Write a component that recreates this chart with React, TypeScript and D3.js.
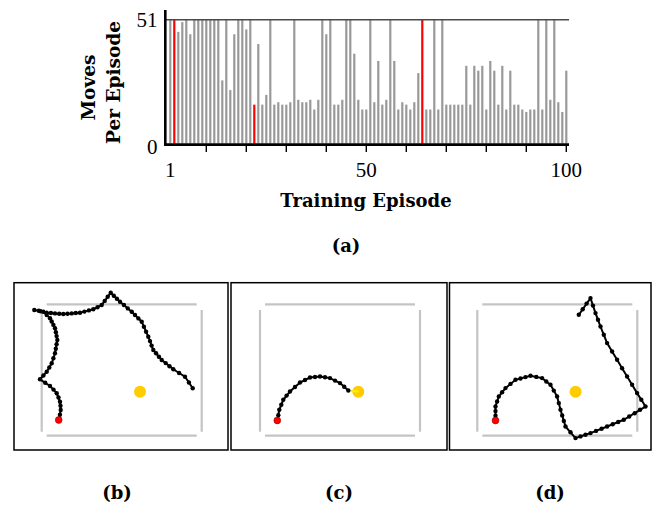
import React from 'react';
import * as d3 from 'd3';

// moves taken in each of the 100 training episodes (51 = gave up)
const movesPerEpisode = [
  51, 51, 46, 50, 51, 45, 51, 51, 51, 51, 51, 51, 51, 26, 51, 22, 45, 51, 51, 47,
  51, 16, 41, 16, 20, 51, 16, 17, 16, 16, 17, 51, 18, 17, 17, 18, 14, 18, 51, 45,
  51, 16, 16, 18, 51, 51, 37, 18, 14, 14, 51, 17, 34, 16, 18, 51, 34, 14, 17, 16,
  14, 17, 29, 51, 14, 14, 51, 14, 51, 16, 16, 16, 16, 16, 32, 16, 32, 30, 32, 14,
  34, 30, 16, 32, 14, 30, 16, 16, 14, 13, 14, 14, 51, 14, 51, 18, 51, 17, 13, 30,
];
// episodes shown below in (b), (c), (d)
const highlighted = [2, 22, 64];
const yTickLabels = [0, 51];
const xTickLabels = [1, 50, 100];
const xTickMarks = [10, 20, 30, 40, 50, 60, 70, 80, 90, 100];

// arena coordinates (0..160 wide, 0..131 tall)
const goal: [number, number] = [98.3, 87.4];

const pathB: [number, number][] = [
  [17, 115.7], [18.2, 110.5], [19, 105.7], [18.8, 101.5], [18.3, 97.4], [16.8, 93.2], [15, 89],
  [11.8, 85.3], [8.3, 81.7], [3.5, 78.5], [-1.7, 75], [1.7, 71.2], [5, 67.4], [7.6, 63.2],
  [10, 59], [11.7, 54], [13.3, 49], [14.1, 44.5], [14.9, 40], [15.6, 35.7], [14.9, 31.8],
  [14.2, 27.9], [13.3, 24], [11.7, 20.6], [10, 17.2], [8.3, 14], [5, 10.7], [1.6, 7.4],
  [-2.9, 6.5], [-7.4, 5.7], [-1.2, 7], [5, 8.4], [9.2, 8.7], [13.3, 9.1], [17.5, 9.4],
  [21.6, 9.7], [25.8, 9.4], [30, 9.1], [34.1, 8.7], [38.3, 8.4], [42.7, 7.3], [47.2, 6.1],
  [51.6, 5], [55.8, 2.9], [60, 0.7], [63, -3.4], [66, -7.5], [69, -11.6], [72.1, -8.6],
  [75.2, -5.6], [78.3, -2.6], [82.2, 0.7], [86.1, 4.1], [90, 7.4], [93.3, 10.7], [96.7, 14.1],
  [100, 17.4], [102.2, 22.4], [104.4, 27.4], [106.6, 32.4], [108.3, 36.8], [109.9, 41.3],
  [111.6, 45.7], [114.4, 49], [117.2, 52.4], [120, 55.7], [124, 58.8], [127.8, 61.9],
  [131.6, 65], [137.4, 68.7], [143.3, 72.4], [147.2, 78.2], [151, 84],
];

const pathC: [number, number][] = [
  [17.3, 116.2], [18.3, 111], [19.3, 105.5], [21.3, 100.5], [23.3, 95.5], [26.6, 91.3],
  [30, 87.2], [35, 82.7], [40, 78.2], [45, 75.7], [50, 73.2], [55, 72.7], [60, 72.2],
  [65, 73], [70, 73.8], [75, 76.3], [80, 78.8], [84.2, 82.5], [88.3, 86.2],
];

const pathD: [number, number][] = [
  [18.2, 116.2], [18.2, 111.5], [18.2, 106.8], [18.2, 102.2], [19.8, 97.2], [21.5, 92.2],
  [24.8, 88], [28.2, 83.8], [33.2, 79.6], [38.2, 75.5], [43.2, 74.2], [48.2, 72.8],
  [53.2, 71.5], [59, 72.6], [64.8, 73.8], [69, 77.2], [73.2, 80.5], [76.5, 86.3],
  [79.8, 92.2], [81.5, 98.8], [83.2, 105.5], [84.9, 111.1], [86.5, 116.6], [88.2, 122.2],
  [93.2, 128], [98.2, 133.8], [103.2, 132.1], [108.2, 130.5], [113.2, 128.8], [118.7, 126.6],
  [124.3, 124.4], [129.8, 122.2], [135.4, 120], [140.9, 117.7], [146.5, 115.5], [151.9, 112.2],
  [157.4, 108.9], [162.8, 105.5], [168.2, 102.2], [164, 95.5], [159.8, 88.8], [154.8, 80.5],
  [149.8, 72.2], [144.8, 63.9], [139.8, 55.5], [134.8, 47.2], [129.8, 38.8], [126.5, 30.5],
  [123.2, 22.2], [120.7, 15.5], [118.2, 8.8], [115.7, 1.3], [113.2, -6.2], [109.3, -0.7],
  [105.4, 5], [101.5, 10.5],
];

const panelLabels = ['(b)', '(c)', '(d)'];
const panelPaths = [pathB, pathC, pathD];
const panelBoxes = [
  { x0: 14, x1: 228, ox: 41.7, lx: 117, reached: false },
  { x0: 231, x1: 447, ox: 260, lx: 339, reached: true },
  { x0: 449.5, x1: 651, ox: 477.3, lx: 550, reached: false },
];

const boldFont = "'DejaVu Serif', serif";
const tickFont = "'Liberation Serif', 'Times New Roman', serif";

const Panel = ({ idx }: { idx: number }) => {
  const box = panelBoxes[idx];
  const pts = panelPaths[idx];
  const x = d3.scaleLinear().domain([0, 160]).range([box.ox, box.ox + 160]);
  const y = d3.scaleLinear().domain([0, 131.4]).range([304.3, 435.7]);
  const line = d3.line<[number, number]>().x(d => x(d[0])).y(d => y(d[1]));
  const last = pts[pts.length - 1];
  const cushion = '#c4c4c4';

  return (
    <g>
      <rect x={box.x0} y={282.7} width={box.x1 - box.x0} height={450 - 282.7}
        fill="white" stroke="black" strokeWidth={1.5} />
      {/* table cushions */}
      <line x1={x(5)} x2={x(155)} y1={y(0)} y2={y(0)} stroke={cushion} strokeWidth={2.2} />
      <line x1={x(5)} x2={x(155)} y1={y(131.4)} y2={y(131.4)} stroke={cushion} strokeWidth={2.2} />
      <line x1={x(0)} x2={x(0)} y1={y(5.7)} y2={y(127.4)} stroke={cushion} strokeWidth={2.2} />
      <line x1={x(160)} x2={x(160)} y1={y(5.7)} y2={y(127.4)} stroke={cushion} strokeWidth={2.2} />
      <circle cx={x(goal[0])} cy={y(goal[1])} r={6} fill="#ffcc00" />
      {box.reached && (
        <line x1={x(last[0])} y1={y(last[1])} x2={x(goal[0])} y2={y(goal[1])}
          stroke="#ffee00" strokeWidth={2.2} />
      )}
      <path d={line(pts) ?? ''} fill="none" stroke="black" strokeWidth={2} />
      {pts.slice(1).map((p, i) => (
        <circle key={i} cx={x(p[0])} cy={y(p[1])} r={2.2} fill="black" />
      ))}
      <circle cx={x(pts[0][0])} cy={y(pts[0][1])} r={3.4} fill="#ff0000" stroke="#990000" strokeWidth={0.6} />
      <text x={box.lx} y={499} textAnchor="middle" fontFamily={boldFont} fontWeight="bold" fontSize={18}>
        {panelLabels[idx]}
      </text>
    </g>
  );
};

export default function App() {
  const x = d3.scaleLinear().domain([1, 100]).range([170.3, 566.3]);
  const y = d3.scaleLinear().domain([0, 51]).range([143.5, 19.7]);

  return (
    <svg width={654} height={512} style={{ position: 'absolute', left: 0, top: 0, background: 'white' }}>
      {/* bars */}
      {movesPerEpisode.map((v, i) => {
        const ep = i + 1;
        const red = highlighted.includes(ep);
        return (
          <rect key={ep} x={x(ep) - 1.1} y={y(v)} width={2.2} height={y(0) - y(v)}
            fill={red ? '#ff0000' : '#999999'} />
        );
      })}
      {/* cap line at 51 moves */}
      <line x1={165} x2={569} y1={y(51)} y2={y(51)} stroke="#4a4a4a" strokeWidth={1.6} />
      {/* axes */}
      <line x1={165.3} x2={165.3} y1={10} y2={145.8} stroke="black" strokeWidth={2.6} />
      <line x1={164} x2={569} y1={144.6} y2={144.6} stroke="black" strokeWidth={2.6} />
      {xTickMarks.map(t => (
        <line key={t} x1={x(t)} x2={x(t)} y1={144} y2={152} stroke="black" strokeWidth={1.4} />
      ))}
      {yTickLabels.map(t => (
        <text key={t} x={157.5} y={y(t) + (t === 0 ? 10 : 7.5)} textAnchor="end"
          fontFamily={tickFont} fontSize={21}>{t}</text>
      ))}
      {xTickLabels.map(t => (
        <text key={t} x={x(t)} y={176.5} textAnchor="middle" fontFamily={tickFont} fontSize={21}>{t}</text>
      ))}
      <text transform="translate(95,87.5) rotate(-90)" textAnchor="middle"
        fontFamily={boldFont} fontWeight="bold" fontSize={18.5}>Moves</text>
      <text transform="translate(119.5,82.5) rotate(-90)" textAnchor="middle"
        fontFamily={boldFont} fontWeight="bold" fontSize={18.5}>Per Episode</text>
      <text x={366} y={207} textAnchor="middle" fontFamily={boldFont} fontWeight="bold" fontSize={18}>
        Training Episode
      </text>
      <text x={346} y={252} textAnchor="middle" fontFamily={boldFont} fontWeight="bold" fontSize={18}>(a)</text>

      {panelBoxes.map((_, i) => <Panel key={i} idx={i} />)}
    </svg>
  );
}
